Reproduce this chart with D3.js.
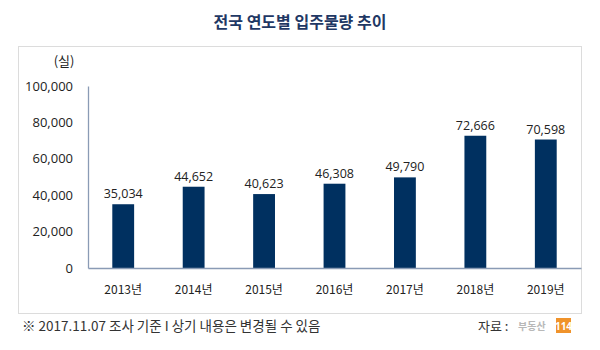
<!DOCTYPE html>
<html><head><meta charset="utf-8">
<script src="https://cdn.jsdelivr.net/npm/d3@7"></script>
<style>body{margin:0;background:#fff}svg{display:block}</style>
</head><body>
<svg id="c" width="600" height="350"></svg>
<script>
const title = "전국 연도별 입주물량 추이";
const unitLabel = "(실)";
const categories = ["2013년","2014년","2015년","2016년","2017년","2018년","2019년"];
const values = [35034,44652,40623,46308,49790,72666,70598];
const yTicks = [0,20000,40000,60000,80000,100000];
const footnote = "※ 2017.11.07 조사 기준 I 상기 내용은 변경될 수 있음";
const sourceLabel = "자료 :";
const sourceName = "부동산";
const sourceBadge = "114";

const svg = d3.select("#c");
const fontK = "'Noto Sans CJK KR', 'Noto Sans', sans-serif";
const fontN = "'Open Sans', 'Noto Sans', sans-serif";

// panel box
svg.append("rect").attr("x",18.5).attr("y",46.5).attr("width",563).attr("height",267)
  .attr("fill","#fff").attr("stroke","#dcdcdc").attr("stroke-width",1);

svg.append("text").attr("x",300).attr("y",28).attr("text-anchor","middle")
  .attr("font-family",fontK).attr("font-weight","bold").attr("font-size",16)
  .attr("fill","#1f3864").text(title);

const x = d3.scaleBand().domain(categories).range([88,581]).paddingInner(0.69).paddingOuter(0.345);
const y = d3.scaleLinear().domain([0,100000]).range([268,86]);

// y tick labels
const yAxis = d3.axisLeft(y).tickValues(yTicks).tickSize(0).tickPadding(15)
  .tickFormat(d3.format(","));
const ya = svg.append("g").attr("transform","translate(88,0)").call(yAxis);
ya.select(".domain").attr("stroke","#8a9bb5").attr("stroke-width",1.3);
ya.selectAll("text").attr("font-family",fontN).attr("font-size",13).attr("fill","#222");

svg.append("text").attr("x",64).attr("y",66).attr("text-anchor","middle")
  .attr("font-family",fontK).attr("font-size",13).attr("fill","#222").text(unitLabel);

// bars
svg.append("g").selectAll("rect").data(values).join("rect")
  .attr("x",(d,i)=>x(categories[i])).attr("width",x.bandwidth())
  .attr("y",d=>y(d)).attr("height",d=>y(0)-y(d)).attr("fill","#003060");

svg.append("g").selectAll("text").data(values).join("text")
  .attr("x",(d,i)=>x(categories[i])+x.bandwidth()/2).attr("y",d=>y(d)-6)
  .attr("text-anchor","middle").attr("font-family",fontN).attr("font-size",12.5)
  .attr("fill","#222").text(d=>d3.format(",")(d));

// x axis
const xAxis = d3.axisBottom(x).tickSize(0).tickPadding(17);
const xa = svg.append("g").attr("transform","translate(0,268)").call(xAxis);
xa.select(".domain").attr("stroke","#8a9bb5").attr("stroke-width",1.3);
xa.selectAll("text").attr("font-family",fontK).attr("font-size",12).attr("fill","#222");

// footer
svg.append("text").attr("x",22).attr("y",331).attr("font-family",fontK)
  .attr("font-size",13.5).attr("fill","#333").text(footnote);
svg.append("text").attr("x",478).attr("y",331).attr("font-family",fontK)
  .attr("font-size",13).attr("fill","#333").text(sourceLabel);
svg.append("text").attr("x",518).attr("y",330).attr("font-family",fontK)
  .attr("font-size",10).attr("font-weight","bold").attr("fill","#b8b8b8").text(sourceName);
svg.append("rect").attr("x",556).attr("y",318).attr("width",15).attr("height",15).attr("fill","#f0932b");
svg.append("text").attr("x",563.5).attr("y",330).attr("text-anchor","middle").attr("font-family",fontN)
  .attr("font-size",10).attr("font-weight","bold").attr("fill","#fff").text(sourceBadge);
</script>
</body></html>
